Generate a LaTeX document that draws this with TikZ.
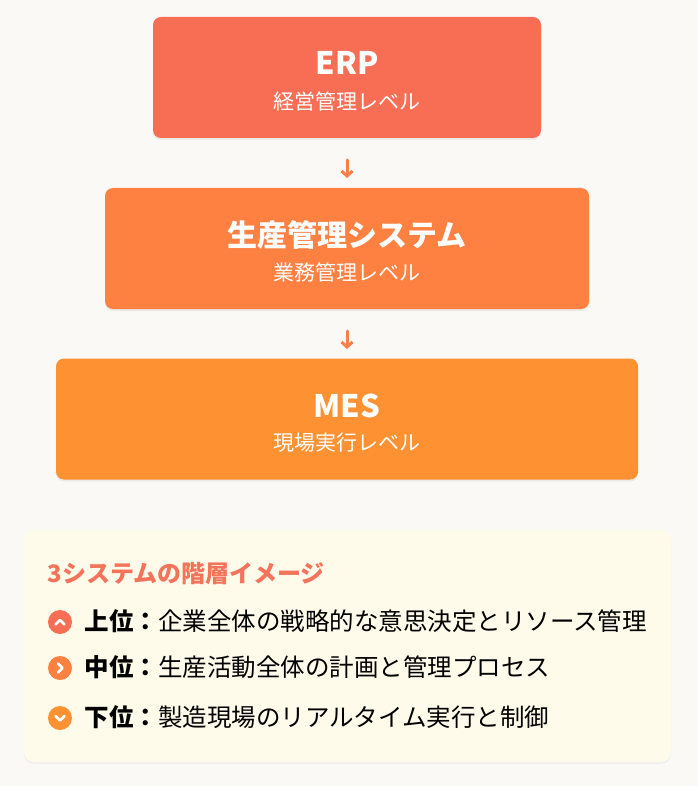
\documentclass[tikz,border=0pt]{standalone}
\usepackage{fontspec}
\setmainfont{Noto Sans CJK JP}
\usetikzlibrary{positioning,shadows,arrows.meta}
\definecolor{bgcream}{HTML}{FBF9F6}
\definecolor{erpred}{HTML}{F76E55}
\definecolor{prodorange}{HTML}{FE8142}
\definecolor{mesorange}{HTML}{FE9131}
\definecolor{noteyellow}{HTML}{FEFBEA}
\definecolor{titlered}{HTML}{F4735B}
\definecolor{arroworange}{HTML}{F7804A}
\begin{document}
\begin{tikzpicture}[x=1pt,y=-1pt,
levelbox/.style={rounded corners=8pt, draw=none, minimum height=121pt, drop shadow={opacity=0.12, shadow xshift=0pt, shadow yshift=-2pt}},
leveltitle/.style={font=\bfseries\fontsize{31}{36}\selectfont, text=white},
levelsub/.style={font=\fontsize{21}{25}\selectfont, text=white},
notebox/.style={rounded corners=10pt, fill=noteyellow, drop shadow={opacity=0.08, shadow xshift=0pt, shadow yshift=-2pt}},
itemicon/.style={circle, minimum size=24pt, inner sep=0pt},
itemtext/.style={anchor=west, font=\fontsize{24.5}{28}\selectfont},
arrow/.style={-{Straight Barb[length=5pt,width=11pt]}, line width=3pt, arroworange, line cap=round}
]
\useasboundingbox[fill=bgcream] (0,0) rectangle (698,786);

%Nodes levels
\node[levelbox, fill=erpred, minimum width=388pt] (erp_box) at (347,77.5) {};
\node[leveltitle] (erp_title) at (347,63) {ERP};
\node[levelsub] (erp_sub) at (347,101) {経営管理レベル};

\node[levelbox, fill=prodorange, minimum width=484pt] (prod_box) at (347,248.5) {};
\node[leveltitle, font=\bfseries\fontsize{30}{36}\selectfont] (prod_title) at (347,235) {生産管理システム};
\node[levelsub] (prod_sub) at (347,272) {業務管理レベル};

\node[levelbox, fill=mesorange, minimum width=582pt] (mes_box) at (347,419) {};
\node[leveltitle] (mes_title) at (347,406) {MES};
\node[levelsub] (mes_sub) at (347,443) {現場実行レベル};

%Arrow between levels
\coordinate (arrow_top_1) at (347,160);
\coordinate (arrow_end_1) at (347,178);
\coordinate (arrow_top_2) at (347,331);
\coordinate (arrow_end_2) at (347,349);
\draw[arrow] (arrow_top_1) -- (arrow_end_1);
\draw[arrow] (arrow_top_2) -- (arrow_end_2);

%Note
\node[notebox, minimum width=647pt, minimum height=232pt] (note_box) at (347.5,646) {};
\node[itemtext, font=\bfseries\fontsize{24}{28}\selectfont, text=titlered] (note_title) at (44,574) {3システムの階層イメージ};

\node[itemicon, fill=erpred] (icon_1) at (60,622) {};
\draw[white, line width=2.6pt, line cap=round, line join=round] ([shift={(-4.5,2.5)}]icon_1.center) -- ([shift={(0,-2)}]icon_1.center) -- ([shift={(4.5,2.5)}]icon_1.center);
\node[itemtext] (item_1) at (81,621) {\textbf{上位：}企業全体の戦略的な意思決定とリソース管理};

\node[itemicon, fill=prodorange] (icon_2) at (60,668) {};
\draw[white, line width=2.6pt, line cap=round, line join=round] ([shift={(-2,-4.5)}]icon_2.center) -- ([shift={(2.5,0)}]icon_2.center) -- ([shift={(-2,4.5)}]icon_2.center);
\node[itemtext] (item_2) at (81,667) {\textbf{中位：}生産活動全体の計画と管理プロセス};

\node[itemicon, fill=mesorange] (icon_3) at (60,718) {};
\draw[white, line width=2.6pt, line cap=round, line join=round] ([shift={(-4.5,-2)}]icon_3.center) -- ([shift={(0,2.5)}]icon_3.center) -- ([shift={(4.5,-2)}]icon_3.center);
\node[itemtext] (item_3) at (81,717) {\textbf{下位：}製造現場のリアルタイム実行と制御};
\end{tikzpicture}
\end{document}
